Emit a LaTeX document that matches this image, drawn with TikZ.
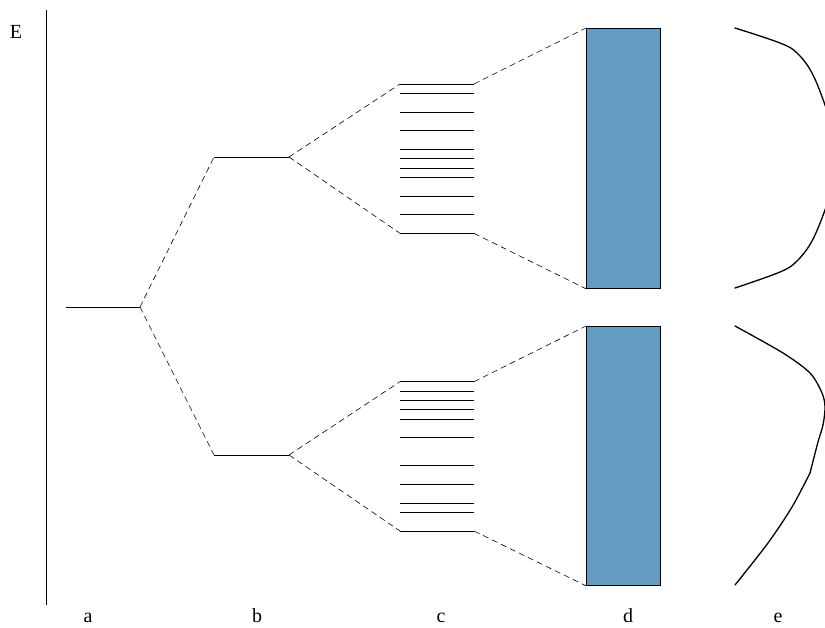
\documentclass[tikz,border=0pt]{standalone}
\usepackage{fontspec}
\setmainfont{Liberation Serif}
\definecolor{bandblue}{RGB}{100,155,192}
\begin{document}
\begin{tikzpicture}[x=1pt,y=-1pt,
  level/.style={line width=0.8pt},
  split/.style={dash pattern=on 6pt off 4pt, line width=0.6pt},
  band/.style={draw=black, fill=bandblue, line width=0.8pt, inner sep=0pt,
    minimum width=74pt, anchor=north west},
  dos/.style={line width=1.3pt, line join=round, line cap=round},
  lab/.style={font=\fontsize{20}{24}\selectfont, inner sep=0pt, anchor=base}]
\useasboundingbox (0,0) rectangle (825,627);

% energy axis
\coordinate (axtop) at (46,10);
\coordinate (axbot) at (46,605);
\draw[line width=0.7pt] (axtop) -- (axbot);
\node[lab] (E) at (16,38) {E};

% a: single level
\coordinate (aL) at (66,307);
\coordinate (aR) at (140,307);
\draw[level] (aL) -- (aR);

% b: two levels
\coordinate (buL) at (214,157); \coordinate (buR) at (289,157);
\coordinate (blL) at (214,455); \coordinate (blR) at (289,455);
\draw[level] (buL) -- (buR);
\draw[level] (blL) -- (blR);
\draw[split] (aR) -- (buL);
\draw[split] (aR) -- (blL);

% c: many levels (unit 9.33)
\foreach \k in {0,1,3,5,7,8,9,10,12,14,16}
  \draw[level] (400,84+9.33*\k) -- (474,84+9.33*\k);
\foreach \k in {0,1,2,3,4,6,9,11,13,14,16}
  \draw[level] (400,381.7+9.33*\k) -- (474,381.7+9.33*\k);
\coordinate (cuTL) at (400,84);   \coordinate (cuTR) at (474,84);
\coordinate (cuBL) at (400,233.3);\coordinate (cuBR) at (474,233.3);
\coordinate (clTL) at (400,381.7);\coordinate (clTR) at (474,381.7);
\coordinate (clBL) at (400,531);  \coordinate (clBR) at (474,531);
\draw[split] (buR) -- (cuTL);
\draw[split] (buR) -- (cuBL);
\draw[split] (blR) -- (clTL);
\draw[split] (blR) -- (clBL);

% d: bands
\node[band, minimum height=260pt] (du) at (586,28) {};
\node[band, minimum height=259pt] (dl) at (586,326) {};
\draw[split] (cuTR) -- (du.north west);
\draw[split] (cuBR) -- (du.south west);
\draw[split] (clTR) -- (dl.north west);
\draw[split] (clBR) -- (dl.south west);

% e: densities of states
\begin{scope}
\clip (0,0) rectangle (825,627);
\draw[dos] plot[smooth, tension=0.6] coordinates {
  (735,28) (780,43) (797,53) (812,73) (825,105) (832,130) (834,158)
  (832,186) (825,210) (812,241) (797,261) (780,272) (735,288)};
\coordinate (kink) at (810,473);
\draw[dos] plot[smooth, tension=0.5] coordinates {
  (735,326) (783,353) (810,373) (822,393) (825,407) (823,425)
  (818,442) (810,473)};
\draw[dos] plot[smooth, tension=0.5] coordinates {
  (810,473) (792,507) (768,543) (735,585)};
\end{scope}

% column labels
\node[lab] (la) at (88,622) {a};
\node[lab] (lb) at (257,622) {b};
\node[lab] (lc) at (441,622) {c};
\node[lab] (ld) at (628,622) {d};
\node[lab] (le) at (778,622) {e};
\end{tikzpicture}
\end{document}
